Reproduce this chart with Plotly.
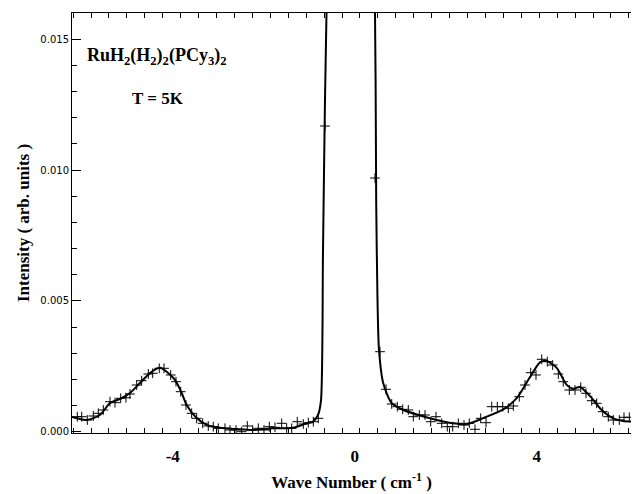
import plotly.graph_objects as go

# Fitted curve (wave number in cm^-1, intensity in arb. units)
fit_x = [-6.215, -5.892, -5.600, -5.380, -5.160, -4.941, -4.721, -4.501, -4.281, -4.134,
         -3.952, -3.804, -3.695, -3.475, -3.255, -2.963, -2.596, -2.237, -1.798, -1.358,
         -1.057, -0.919, -0.809, -0.743, -0.699, -0.655, -0.622, -0.09,
         0.444, 0.470, 0.499, 0.532, 0.626, 0.811, 1.066, 1.433, 1.800, 2.165, 2.459,
         2.824, 3.264, 3.558, 3.851, 4.070, 4.218, 4.437, 4.657, 4.802, 4.949, 5.169,
         5.426, 5.681, 5.901, 6.092]
fit_y = [0.000562, 0.000447, 0.000638, 0.001097, 0.00125, 0.00148, 0.00186, 0.00224, 0.00244, 0.00229,
         0.00198, 0.00148, 0.00102, 0.00052, 0.00026, 0.00015, 0.00010, 0.000065, 0.00013, 0.00015,
         0.00032, 0.00038, 0.00064, 0.0012, 0.0069, 0.0127, 0.0160, 0.060,
         0.0160, 0.00886, 0.00504, 0.00312, 0.00185, 0.00109, 0.00083, 0.00062, 0.00045, 0.00032, 0.00029,
         0.00052, 0.00085, 0.00128, 0.00209, 0.00265, 0.00270, 0.00244, 0.00179, 0.00164, 0.00171, 0.00136,
         0.00083, 0.00051, 0.00041, 0.00039]

# Measured points
obs_x = [-6.099, -6.002, -5.879, -5.747, -5.637, -5.527, -5.380, -5.270, -5.145, -5.029,
         -4.941, -4.793, -4.684, -4.538, -4.442, -4.297, -4.193, -4.046, -3.930, -3.826,
         -3.710, -3.585, -3.475, -3.343, -3.220, -3.110, -3.000, -2.853, -2.743, -2.611,
         -2.486, -2.363, -2.244, -2.121, -1.996, -1.879, -1.754, -1.607, -1.497, -1.387,
         -1.264, -1.132, -1.022, -0.912, -0.802, -0.655,
         0.444, 0.554, 0.686, 0.811, 0.934, 1.053, 1.176, 1.286, 1.418, 1.543,
         1.668, 1.785, 1.910, 2.033, 2.152, 2.275, 2.400, 2.516, 2.642, 2.767,
         2.884, 3.009, 3.132, 3.251, 3.374, 3.484, 3.615, 3.741, 3.866, 3.982,
         4.108, 4.231, 4.349, 4.473, 4.582, 4.714, 4.840, 4.965, 5.081, 5.207,
         5.316, 5.448, 5.571, 5.681, 5.813, 5.916, 6.033]
obs_y = [0.000573, 0.000573, 0.000447, 0.000600, 0.000703, 0.000830, 0.001147, 0.001109, 0.001277, 0.001300,
         0.001441, 0.001785, 0.001950, 0.002206, 0.002233, 0.002424, 0.002424, 0.002168, 0.001912, 0.001529,
         0.001021, 0.000703, 0.000512, 0.000321, 0.000218, 0.000191, 0.000130, 0.000130, 0.000065, 0.000065,
         0.000000, 0.000218, 0.000065, 0.000130, 0.000065, 0.000191, 0.000168, 0.000321, 0.000130, 0.000130,
         0.000382, 0.000294, 0.000344, 0.000382, 0.000512, 0.011687,
         0.009699, 0.003058, 0.001621, 0.001059, 0.000956, 0.000856, 0.000830, 0.000573, 0.000638, 0.000638,
         0.000382, 0.000573, 0.000321, 0.000191, 0.000191, 0.000321, 0.000256, 0.000321, 0.000092, 0.000512,
         0.000344, 0.000956, 0.000956, 0.000956, 0.000895, 0.000983, 0.001338, 0.001785, 0.002256, 0.002168,
         0.002768, 0.002676, 0.002550, 0.002206, 0.001912, 0.001594, 0.001594, 0.001697, 0.001468, 0.001185,
         0.001086, 0.000765, 0.000573, 0.000447, 0.000447, 0.000550, 0.000550]

x_tick_vals = [-4, 0, 4]
x_tick_text = ["-4", "0", "4"]
y_tick_vals = [0.000, 0.005, 0.010, 0.015]
y_tick_text = ["0.000", "0.005", "0.010", "0.015"]

compound_label = "RuH<sub>2</sub>(H<sub>2</sub>)<sub>2</sub>(PCy<sub>3</sub>)<sub>2</sub>"
temp_label = "T = 5K"

serif = "Liberation Serif"

fig = go.Figure()
fig.add_trace(go.Scatter(
    x=obs_x, y=obs_y, mode="markers",
    marker=dict(symbol="cross-thin", size=7, color="black",
                line=dict(color="black", width=1)),
    showlegend=False, hoverinfo="skip"))
fig.add_trace(go.Scatter(
    x=fit_x, y=fit_y, mode="lines",
    line=dict(color="black", width=2, shape="spline", smoothing=0.7),
    showlegend=False, hoverinfo="skip"))

fig.update_layout(
    width=632, height=494,
    margin=dict(l=72, r=1, t=13, b=61),
    paper_bgcolor="white", plot_bgcolor="white",
    font=dict(family=serif, color="black"),
    annotations=[
        dict(x=-5.93, y=0.01436, xref="x", yref="y", text=compound_label,
             showarrow=False, xanchor="left", yanchor="middle",
             font=dict(family=serif, size=18, weight="bold", color="black")),
        dict(x=-4.94, y=0.01272, xref="x", yref="y", text=temp_label,
             showarrow=False, xanchor="left", yanchor="middle",
             font=dict(family=serif, size=17, weight="bold", color="black")),
    ],
)

fig.update_xaxes(
    range=[-6.215, 6.070], automargin=False,
    tickvals=x_tick_vals, ticktext=x_tick_text,
    ticks="", ticklabelstandoff=8,
    tickfont=dict(family=serif, size=17, weight="bold", color="black"),
    minor=dict(ticks="inside", tick0=0.114, dtick=0.394, ticklen=5,
               tickcolor="black", tickwidth=1, showgrid=False),
    showline=True, linecolor="black", linewidth=1, mirror="ticks",
    showgrid=False, zeroline=False,
    title=dict(text="Wave Number ( cm<sup>-1</sup> )", standoff=10,
               font=dict(family=serif, size=17, weight="bold", color="black")),
)
fig.update_yaxes(
    range=[-0.00005, 0.016007], automargin=False,
    tickvals=y_tick_vals, ticktext=y_tick_text,
    ticks="inside", ticklen=9, tickcolor="black", tickwidth=1,
    tickfont=dict(family="DejaVu Sans", size=10, color="black"),
    ticklabelstandoff=0,
    minor=dict(ticks="inside", dtick=0.001, ticklen=5,
               tickcolor="black", tickwidth=1, showgrid=False),
    showline=True, linecolor="black", linewidth=1, mirror=False,
    showgrid=False, zeroline=False,
    title=dict(text="Intensity ( arb. units )", standoff=6,
               font=dict(family=serif, size=17, weight="bold", color="black")),
)

fig.write_html("out.html", config=dict(displayModeBar=False),
               post_script="document.body.style.margin='0';document.body.style.overflow='hidden';")
